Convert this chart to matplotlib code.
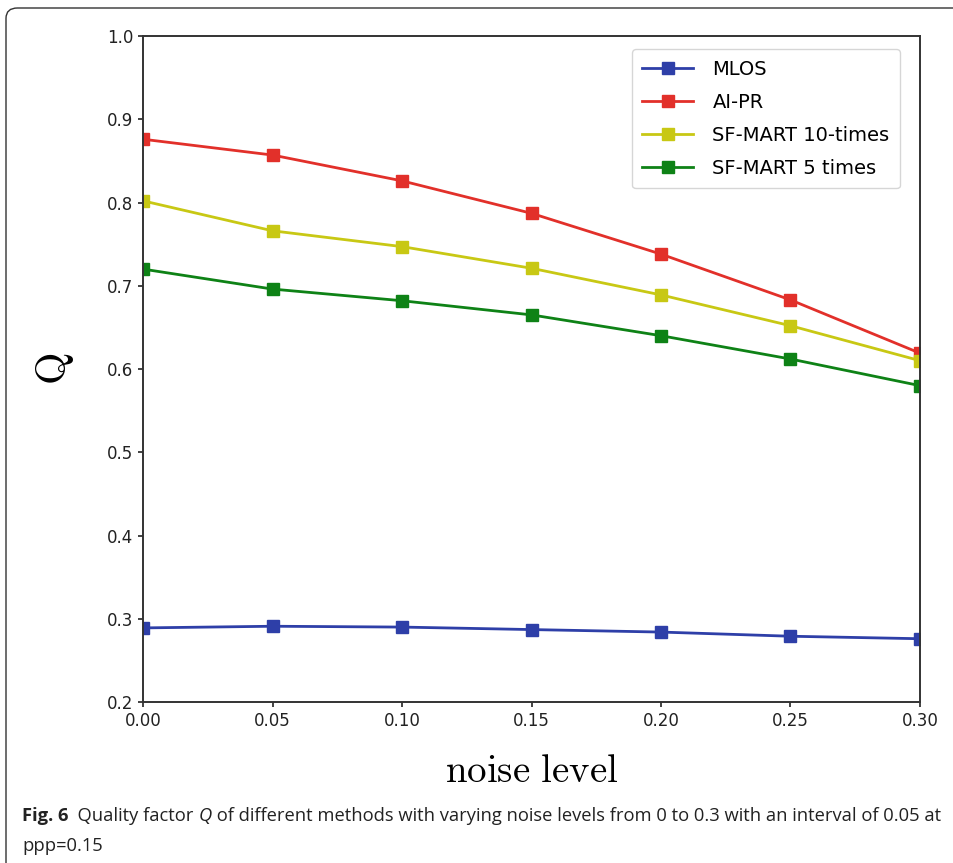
import matplotlib.pyplot as plt
from matplotlib.patches import FancyBboxPatch

noise = [0.00, 0.05, 0.10, 0.15, 0.20, 0.25, 0.30]
mlos = [0.289, 0.291, 0.290, 0.287, 0.284, 0.279, 0.276]
aipr = [0.876, 0.857, 0.826, 0.787, 0.738, 0.683, 0.619]
sf10 = [0.802, 0.766, 0.747, 0.721, 0.689, 0.652, 0.610]
sf5 = [0.720, 0.696, 0.682, 0.665, 0.640, 0.612, 0.580]

plt.rcParams['mathtext.fontset'] = 'cm'

fig = plt.figure(figsize=(9.54, 8.63), dpi=100)
ax = fig.add_axes([143 / 954, 1 - 702 / 863, 777 / 954, 666 / 863])

# outer article frame
frame = FancyBboxPatch((6 / 954, -0.05), 1.2, 1.05 - 8 / 863,
                       boxstyle="round,pad=0,rounding_size=0.012",
                       transform=fig.transFigure, fill=False,
                       edgecolor='#333333', linewidth=1.0, clip_on=False)
fig.patches.append(frame)

kw = dict(marker='s', markersize=8, linewidth=2)
ax.plot(noise, mlos, color='#2e3fa8', label='MLOS', **kw)
ax.plot(noise, aipr, color='#e2302a', label='AI-PR', **kw)
ax.plot(noise, sf10, color='#c8c814', label='SF-MART 10-times', **kw)
ax.plot(noise, sf5, color='#0e8216', label='SF-MART 5 times', **kw)

ax.set_xlim(0, 0.30)
ax.set_ylim(0.2, 1.0)
ax.set_xticks(noise)
ax.set_xticklabels(['%.2f' % v for v in noise])
ax.set_yticks([0.2, 0.3, 0.4, 0.5, 0.6, 0.7, 0.8, 0.9, 1.0])
ax.tick_params(labelsize=12, colors='#222222', width=1.2)
for s in ax.spines.values():
    s.set_linewidth(1.4)
    s.set_color('#333333')

ax.set_xlabel(r'$\mathrm{noise\ level}$', fontsize=28, labelpad=16)
ax.set_ylabel(r'$\mathrm{Q}$', fontsize=30, labelpad=22)

leg = ax.legend(loc='upper right', fontsize=14, frameon=True,
                borderpad=0.55, labelspacing=0.72, handlelength=2.6,
                handletextpad=1.0, bbox_to_anchor=(0.987, 0.995))
leg.get_frame().set_edgecolor('#cccccc')

# caption, drawn piece by piece
cap_y = 1 - 816 / 863
fs = 13.2
fig.canvas.draw()
r = fig.canvas.get_renderer()
x = 22 / 954
pieces = [('Fig. 6', 'bold', 'normal'), ('  Quality factor ', 'normal', 'normal'),
          ('Q', 'normal', 'italic'),
          (' of different methods with varying noise levels from 0 to 0.3 with an interval of 0.05 at',
           'normal', 'normal')]
for txt, w, st in pieces:
    t = fig.text(x, cap_y, txt, fontsize=fs, fontweight=w, fontstyle=st,
                 family='Open Sans', va='center', color='#222222')
    x += t.get_window_extent(r).width / fig.bbox.width
fig.text(22 / 954, 1 - 846 / 863, 'ppp=0.15', fontsize=fs,
         family='Open Sans', va='center', color='#222222')

fig.savefig('out.png', dpi=100)
